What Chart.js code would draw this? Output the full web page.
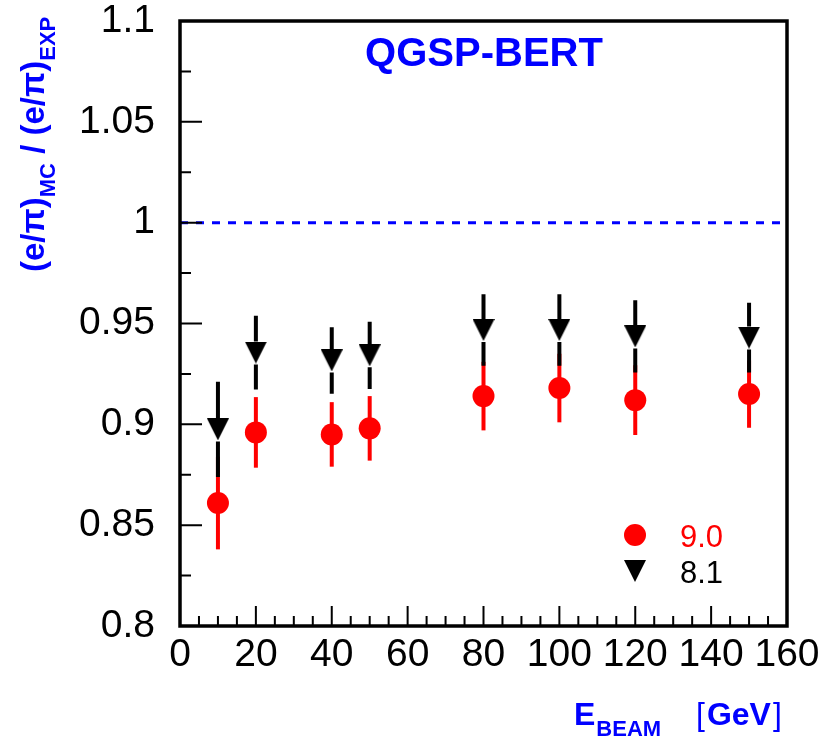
<!DOCTYPE html>
<html>
<head>
<meta charset="utf-8">
<title>e/pi MC / EXP</title>
<script src="https://cdn.jsdelivr.net/npm/chart.js@4.4.1/dist/chart.umd.min.js"></script>
<style>
  html, body { margin: 0; padding: 0; background: #fff; }
  #wrap { width: 828px; height: 739px; }
</style>
</head>
<body>
<div id="wrap"><canvas id="ratioChart"></canvas></div>
<script>
// ビームエネルギー (GeV)
const energies = [10, 20, 40, 50, 80, 100, 120, 150];
// Geant4 9.0 : (e/π)MC / (e/π)EXP とその誤差
const ratio90 = [0.861, 0.896, 0.895, 0.898, 0.914, 0.918, 0.912, 0.915];
const err90 = [0.023, 0.0175, 0.016, 0.016, 0.017, 0.017, 0.0173, 0.0167];
// Geant4 8.1
const ratio81 = [0.8975, 0.9356, 0.9317, 0.9342, 0.9468, 0.9468, 0.9436, 0.943];
const err81 = [0.0236, 0.0183, 0.0165, 0.0167, 0.0177, 0.0177, 0.0179, 0.0173];
// 軸の目盛り
const yTicks = [0.8, 0.85, 0.9, 0.95, 1, 1.05, 1.1];
const xTicks = [0, 20, 40, 60, 80, 100, 120, 140, 160];
const physicsList = 'QGSP-BERT';
const versions = ['9.0', '8.1'];

const BLUE = '#0000ff';
const RED = '#ff0000';
const FONT = '"Liberation Sans", Arial, Helvetica, sans-serif';

// 下向き三角形のマーカー
function makeTriangle(size, color) {
    let c = document.createElement('canvas');
    c.width = size;
    c.height = size;
    let g = c.getContext('2d');
    g.fillStyle = color;
    g.beginPath();
    g.moveTo(0, 0);
    g.lineTo(size, 0);
    g.lineTo(size / 2, size);
    g.closePath();
    g.fill();
    return c;
}
let triangle = makeTriangle(22, '#000');

// 誤差棒（三角形マーカーの周りは空ける）
const errorBars = {
    id: 'errorBars',
    beforeDatasetsDraw(chart) {
        let ctx = chart.ctx;
        let ys = chart.scales.y;
        chart.data.datasets.forEach((ds, i) => {
            let meta = chart.getDatasetMeta(i);
            ctx.save();
            ctx.strokeStyle = ds.errColor;
            ctx.lineWidth = 4;
            meta.data.forEach((pt, j) => {
                let v = ds.data[j].y;
                let top = ys.getPixelForValue(v + ds.errors[j]);
                let bot = ys.getPixelForValue(v - ds.errors[j]);
                ctx.beginPath();
                if (ds.gap) {
                    ctx.moveTo(pt.x, top);
                    ctx.lineTo(pt.x, pt.y - ds.gap);
                    ctx.moveTo(pt.x, pt.y + ds.gap + 1);
                    ctx.lineTo(pt.x, bot);
                } else {
                    ctx.moveTo(pt.x, top);
                    ctx.lineTo(pt.x, bot);
                }
                ctx.stroke();
            });
            ctx.restore();
        });
    }
};

// 枠・目盛り・文字
const decorations = {
    id: 'decorations',
    beforeDatasetsDraw(chart) {
        let ctx = chart.ctx;
        let a = chart.chartArea;
        let y1 = chart.scales.y.getPixelForValue(1);
        ctx.save();
        ctx.strokeStyle = BLUE;
        ctx.lineWidth = 3;
        ctx.setLineDash([8, 8]);
        ctx.beginPath();
        ctx.moveTo(a.left, y1);
        ctx.lineTo(a.right, y1);
        ctx.stroke();
        ctx.restore();
    },
    afterDraw(chart) {
        let ctx = chart.ctx;
        let a = chart.chartArea;
        let xs = chart.scales.x;
        let ys = chart.scales.y;
        ctx.save();

        // 目盛り
        ctx.strokeStyle = '#000';
        ctx.lineWidth = 2;
        ctx.beginPath();
        for (let i = 0; i < yTicks.length; i++) {
            let p = ys.getPixelForValue(yTicks[i]);
            ctx.moveTo(a.left, p);
            ctx.lineTo(a.left + 22, p);
            if (i < yTicks.length - 1) {
                let m = ys.getPixelForValue((yTicks[i] + yTicks[i + 1]) / 2);
                ctx.moveTo(a.left, m);
                ctx.lineTo(a.left + 11, m);
            }
        }
        for (let i = 0; i < xTicks.length; i++) {
            let p = xs.getPixelForValue(xTicks[i]);
            ctx.moveTo(p, a.bottom);
            ctx.lineTo(p, a.bottom - 20);
            if (i < xTicks.length - 1) {
                let step = (xTicks[i + 1] - xTicks[i]) / 4;
                for (let k = 1; k < 4; k++) {
                    let m = xs.getPixelForValue(xTicks[i] + k * step);
                    ctx.moveTo(m, a.bottom);
                    ctx.lineTo(m, a.bottom - 10);
                }
            }
        }
        ctx.stroke();

        // 枠
        ctx.lineWidth = 3.5;
        ctx.strokeRect(a.left, a.top, a.right - a.left, a.bottom - a.top);

        // タイトル
        ctx.fillStyle = BLUE;
        ctx.font = 'bold 40px ' + FONT;
        ctx.textAlign = 'center';
        ctx.textBaseline = 'alphabetic';
        ctx.fillText(physicsList, 484, 66);

        // 凡例
        ctx.textAlign = 'left';
        ctx.font = '31px ' + FONT;
        ctx.fillStyle = RED;
        ctx.beginPath();
        ctx.arc(635, 535, 11, 0, Math.PI * 2);
        ctx.fill();
        ctx.fillText(versions[0], 680, 547);
        ctx.drawImage(triangle, 635 - 11, 571 - 11);
        ctx.fillStyle = '#000';
        ctx.fillText(versions[1], 680, 583);

        // x 軸タイトル
        ctx.fillStyle = BLUE;
        let x = 574;
        ctx.font = 'bold 32px ' + FONT;
        ctx.fillText('E', x, 725);
        x += ctx.measureText('E').width;
        ctx.font = 'bold 22px ' + FONT;
        ctx.fillText('BEAM', x + 1, 736);
        ctx.font = '32px ' + FONT;
        ctx.fillText('[', 696, 725);
        let bx = 696 + ctx.measureText('[').width + 2;
        ctx.font = 'bold 32px ' + FONT;
        ctx.fillText('GeV', bx, 725);
        bx += ctx.measureText('GeV').width + 2;
        ctx.font = '32px ' + FONT;
        ctx.fillText(']', bx, 725);

        // y 軸タイトル（下から上へ）
        ctx.translate(44, 272);
        ctx.rotate(-Math.PI / 2);
        let parts = [
            ['(e/π)', 'bold 33px ', 0],
            ['MC', 'bold 22px ', 11],
            [' / (e/π)', 'bold 33px ', 0],
            ['EXP', 'bold 22px ', 11]
        ];
        let tx = 0;
        parts.forEach(p => {
            ctx.font = p[1] + FONT;
            ctx.fillText(p[0], tx, p[2]);
            tx += ctx.measureText(p[0]).width;
        });
        ctx.restore();
    }
};

let dataset90 = energies.map((e, i) => ({ x: e, y: ratio90[i] }));
let dataset81 = energies.map((e, i) => ({ x: e, y: ratio81[i] }));

let ctx = document.getElementById('ratioChart').getContext('2d');
let ratioChart = new Chart(ctx, {
    type: 'scatter',
    data: {
        datasets: [{
            label: versions[0],
            data: dataset90,
            errors: err90,
            errColor: RED,
            gap: 0,
            pointStyle: 'circle',
            pointRadius: 11,
            backgroundColor: RED,
            borderWidth: 0
        }, {
            label: versions[1],
            data: dataset81,
            errors: err81,
            errColor: '#000',
            gap: 11,
            pointStyle: triangle,
            pointRadius: 11,
            backgroundColor: '#000',
            borderWidth: 0
        }]
    },
    options: {
        responsive: true,
        maintainAspectRatio: false,
        animation: false,
        events: [],
        layout: { padding: { top: 21, right: 41, left: 0, bottom: 0 } },
        plugins: {
            legend: { display: false },
            tooltip: { enabled: false }
        },
        scales: {
            x: {
                type: 'linear',
                min: 0,
                max: 160,
                afterFit(scale) {
                    scale.height = 113;
                    scale.paddingLeft = 0;
                    scale.paddingRight = 0;
                },
                afterBuildTicks(scale) { scale.ticks = xTicks.map(v => ({ value: v })); },
                grid: { display: false, drawTicks: false },
                border: { display: false },
                ticks: {
                    padding: 6,
                    color: '#000',
                    font: { family: FONT, size: 39 }
                }
            },
            y: {
                min: 0.8,
                max: 1.1,
                afterFit(scale) {
                    scale.width = 180;
                    scale.paddingTop = 0;
                    scale.paddingBottom = 0;
                },
                afterBuildTicks(scale) { scale.ticks = yTicks.map(v => ({ value: v })); },
                grid: { display: false, drawTicks: false },
                border: { display: false },
                ticks: {
                    padding: 25,
                    color: '#000',
                    font: { family: FONT, size: 39 },
                    callback: v => String(+v.toFixed(2))
                }
            }
        }
    },
    plugins: [errorBars, decorations]
});
</script>
</body>
</html>
